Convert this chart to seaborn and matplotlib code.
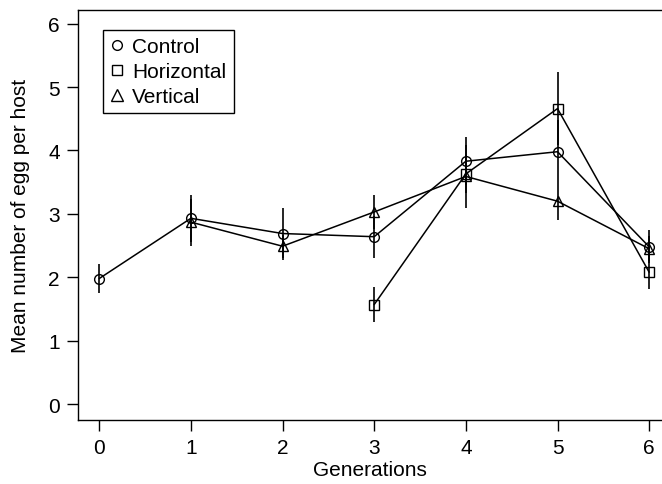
import numpy as np
import pandas as pd
import seaborn as sns
import matplotlib.pyplot as plt

# values
generations = [0, 1, 2, 3, 4, 5, 6]
control = [1.98, 2.93, 2.69, 2.64, 3.83, 3.98, 2.48]
control_se = [0.23, 0.37, 0.41, 0.33, 0.38, 0.50, 0.26]
horizontal = [np.nan, np.nan, np.nan, 1.57, 3.63, 4.66, 2.08]
horizontal_se = [np.nan, np.nan, np.nan, 0.28, 0.30, 0.58, 0.27]
vertical = [np.nan, 2.87, 2.49, 3.03, 3.59, 3.20, 2.45]
vertical_se = [np.nan, 0.37, 0.18, 0.27, 0.50, 0.29, 0.20]

groups = ['Control', 'Horizontal', 'Vertical']
means = [control, horizontal, vertical]
errs = [control_se, horizontal_se, vertical_se]

rows = []
for g, m, e in zip(groups, means, errs):
    for x, y, s in zip(generations, m, e):
        if not np.isnan(y):
            rows.append({'Generations': x, 'mean': y, 'se': s, 'group': g})
df = pd.DataFrame(rows)

sns.set_style('ticks', {'text.color': 'black', 'axes.labelcolor': 'black',
                        'xtick.color': 'black', 'ytick.color': 'black',
                        'axes.edgecolor': 'black'})
plt.rcParams['font.family'] = ['Liberation Sans', 'DejaVu Sans']
fs = 15

fig = plt.figure(figsize=(6.62, 4.85), dpi=100)
ax = fig.add_axes([0.118, 0.132, 0.882, 0.846])

for g in groups:
    d = df[df['group'] == g]
    ax.errorbar(d['Generations'], d['mean'], yerr=d['se'], fmt='none',
                ecolor='black', elinewidth=1.2, capsize=0, zorder=2)

sns.lineplot(data=df, x='Generations', y='mean', style='group',
             markers={'Control': 'o', 'Horizontal': 's', 'Vertical': '^'},
             dashes=False, color='black', linewidth=1.1, markersize=7,
             ax=ax, legend=False, zorder=3)
for line in ax.lines:
    line.set_markerfacecolor('none')
    line.set_markeredgecolor('black')
    line.set_markeredgewidth(1.0)

ax.set_xlim(-0.23, 6.14)
ax.set_ylim(-0.25, 6.22)
ax.set_xticks(generations)
ax.set_yticks(range(0, 7))
ax.set_xlabel('Generations', fontsize=fs, labelpad=2)
ax.set_ylabel('Mean number of egg per host', fontsize=fs, labelpad=13)
ax.tick_params(labelsize=fs, length=8, width=1, color='black',
               labelcolor='black', direction='out', pad=5.3)
for s in ['left', 'bottom', 'top']:
    ax.spines[s].set_color('black')
    ax.spines[s].set_linewidth(1)
ax.spines['right'].set_visible(False)

handles = [plt.Line2D([], [], marker=mk, color='black', linestyle='none',
                      markerfacecolor='none', markersize=sz, markeredgewidth=1.0)
           for mk, sz in [('o', 7), ('s', 7), ('^', 8.5)]]
leg = ax.legend(handles, groups, loc='upper left', bbox_to_anchor=(0.043, 0.95),
                fontsize=fs, frameon=True, fancybox=False, handlelength=0.6,
                handletextpad=0.45, borderpad=0.35, labelspacing=0.28,
                borderaxespad=0, edgecolor='black', framealpha=1)
leg.get_frame().set_linewidth(1)
for t in leg.get_texts():
    t.set_color('black')

fig.savefig('out.png', dpi=100)
